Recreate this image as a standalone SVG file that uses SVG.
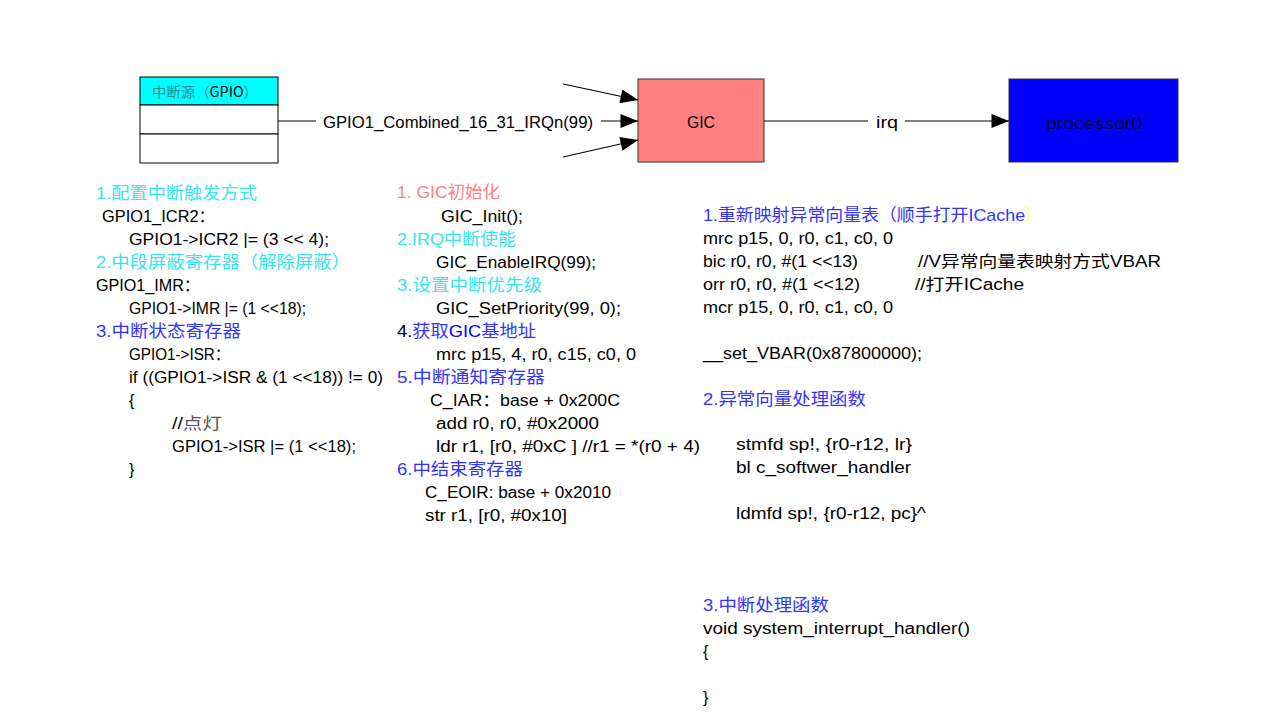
<svg xmlns="http://www.w3.org/2000/svg" width="1281" height="725" viewBox="0 0 1281 725">
<defs>
<marker id="ah2" viewBox="0 0 10 8" markerWidth="20" markerHeight="14" refX="10" refY="4" orient="auto" markerUnits="userSpaceOnUse"><path d="M0,0 L10,4 L0,8 z" fill="#000"/></marker>
</defs>
<style>
text{font-family:"Liberation Sans","Noto Sans CJK SC",sans-serif;font-size:16px;fill:#000}
.h{font-size:17px}
.cy{fill:#33e6f0}
.bl{fill:#3333ff}
.pk{fill:#ff8080}
.ln{stroke:#000;stroke-width:1.2;fill:none}
</style>
<rect width="1281" height="725" fill="#fff"/>
<g id="gpio">
<rect x="140" y="77" width="138" height="28" fill="#00ffff" stroke="#000" stroke-width="1"/>
<rect x="140" y="105" width="138" height="29" fill="#fff" stroke="#000" stroke-width="1"/>
<rect x="140" y="134" width="138" height="29" fill="#fff" stroke="#000" stroke-width="1"/>
<text x="152" y="97" textLength="106" lengthAdjust="spacingAndGlyphs" style="font-size:14px;font-family:'Noto Sans CJK SC',sans-serif"><tspan fill="#2a8a90">中断源（</tspan><tspan>GPIO</tspan><tspan fill="#2a8a90">）</tspan></text>
</g>
<g id="gic">
<rect x="638" y="79" width="126" height="83" fill="#ff8080" stroke="#333" stroke-width="1"/>
<text x="687" y="128" textLength="28" lengthAdjust="spacingAndGlyphs">GIC</text>
</g>
<g id="processor0">
<rect x="1009" y="79" width="169" height="83" fill="#0000ff" stroke="#333" stroke-width="1"/>
<text x="1046" y="129" textLength="96" lengthAdjust="spacingAndGlyphs" style="fill:#000033">processor0</text>
</g>
<g id="connectors">
<line class="ln" x1="278" y1="121" x2="316" y2="121"/>
<text x="323" y="128" textLength="270" lengthAdjust="spacingAndGlyphs">GPIO1_Combined_16_31_IRQn(99)</text>
<line class="ln" x1="601" y1="121" x2="638" y2="121" marker-end="url(#ah2)"/>
<line class="ln" x1="563" y1="84" x2="638" y2="100" marker-end="url(#ah2)"/>
<line class="ln" x1="563" y1="157" x2="638" y2="140" marker-end="url(#ah2)"/>
<line class="ln" x1="764" y1="121" x2="868" y2="121"/>
<text x="876" y="128" textLength="22" lengthAdjust="spacingAndGlyphs">irq</text>
<line class="ln" x1="905" y1="121" x2="1009" y2="121" marker-end="url(#ah2)"/>
</g>
<g id="col1">
<text x="96" y="199" class="cy h" textLength="161" lengthAdjust="spacingAndGlyphs">1.配置中断触发方式</text>
<text x="102" y="222" textLength="113" lengthAdjust="spacingAndGlyphs">GPIO1_ICR2：</text>
<text x="129" y="245" textLength="200" lengthAdjust="spacingAndGlyphs">GPIO1-&gt;ICR2  |= (3 &lt;&lt; 4);</text>
<text x="96" y="268" class="cy h" textLength="254" lengthAdjust="spacingAndGlyphs">2.中段屏蔽寄存器（解除屏蔽）</text>
<text x="96" y="291" textLength="104" lengthAdjust="spacingAndGlyphs">GPIO1_IMR：</text>
<text x="129" y="314" textLength="177" lengthAdjust="spacingAndGlyphs">GPIO1-&gt;IMR |= (1 &lt;&lt;18);</text>
<text x="96" y="337" class="bl h" textLength="145" lengthAdjust="spacingAndGlyphs">3.中断状态寄存器</text>
<text x="129" y="360" textLength="101" lengthAdjust="spacingAndGlyphs">GPIO1-&gt;ISR：</text>
<text x="129" y="383" textLength="254" lengthAdjust="spacingAndGlyphs">if ((GPIO1-&gt;ISR &amp; (1 &lt;&lt;18)) != 0)</text>
<text x="129" y="406">{</text>
<text x="172" y="429" textLength="50" lengthAdjust="spacingAndGlyphs">//<tspan fill="#555">点灯</tspan></text>
<text x="172" y="452" textLength="184" lengthAdjust="spacingAndGlyphs">GPIO1-&gt;ISR |= (1 &lt;&lt;18);</text>
<text x="129" y="475">}</text>
</g>
<g id="col2">
<text x="397" y="198" class="pk h" textLength="103" lengthAdjust="spacingAndGlyphs">1. GIC初始化</text>
<text x="441" y="222" textLength="82" lengthAdjust="spacingAndGlyphs">GIC_Init();</text>
<text x="397" y="245" class="cy h" textLength="119" lengthAdjust="spacingAndGlyphs">2.IRQ中断使能</text>
<text x="436" y="268" textLength="160" lengthAdjust="spacingAndGlyphs">GIC_EnableIRQ(99);</text>
<text x="397" y="291" class="cy h" textLength="145" lengthAdjust="spacingAndGlyphs">3.设置中断优先级</text>
<text x="436" y="314" textLength="185" lengthAdjust="spacingAndGlyphs">GIC_SetPriority(99, 0);</text>
<text x="397" y="337" class="h" textLength="139" lengthAdjust="spacingAndGlyphs">4.<tspan class="bl">获取</tspan><tspan fill="#0000ff">GIC</tspan><tspan class="bl">基地址</tspan></text>
<text x="436" y="360" textLength="200" lengthAdjust="spacingAndGlyphs">mrc p15, 4, r0, c15, c0, 0</text>
<text x="397" y="383" class="bl h" textLength="148" lengthAdjust="spacingAndGlyphs">5.中断通知寄存器</text>
<text x="430" y="406" textLength="190" lengthAdjust="spacingAndGlyphs">C_IAR：base + 0x200C</text>
<text x="436" y="429" textLength="163" lengthAdjust="spacingAndGlyphs">add r0, r0, #0x2000</text>
<text x="436" y="452" textLength="264" lengthAdjust="spacingAndGlyphs">ldr r1, [r0, #0xC ] //r1 = *(r0 + 4)</text>
<text x="397" y="475" class="bl h" textLength="126" lengthAdjust="spacingAndGlyphs">6.中结束寄存器</text>
<text x="425" y="498" textLength="186" lengthAdjust="spacingAndGlyphs">C_EOIR: base + 0x2010</text>
<text x="425" y="521" textLength="142" lengthAdjust="spacingAndGlyphs">str r1, [r0, #0x10]</text>
</g>
<g id="col3">
<text x="703" y="221" class="bl h" textLength="340" lengthAdjust="spacingAndGlyphs">1.重新映射异常向量表（顺手打开ICache<tspan fill="#ffff66">）</tspan></text>
<text x="703" y="244" textLength="190" lengthAdjust="spacingAndGlyphs">mrc p15, 0, r0, c1, c0, 0</text>
<text x="703" y="267" textLength="155" lengthAdjust="spacingAndGlyphs">bic r0, r0, #(1 &lt;&lt;13)</text>
<text x="918" y="267" textLength="243" lengthAdjust="spacingAndGlyphs">//V异常向量表映射方式VBAR</text>
<text x="703" y="290" textLength="157" lengthAdjust="spacingAndGlyphs">orr r0, r0, #(1 &lt;&lt;12)</text>
<text x="915" y="290" textLength="109" lengthAdjust="spacingAndGlyphs">//打开ICache</text>
<text x="703" y="313" textLength="190" lengthAdjust="spacingAndGlyphs">mcr p15, 0, r0, c1, c0, 0</text>
<text x="703" y="359" textLength="219" lengthAdjust="spacingAndGlyphs">__set_VBAR(0x87800000);</text>
<text x="703" y="405" class="bl h" textLength="163" lengthAdjust="spacingAndGlyphs">2.异常向量处理函数</text>
<text x="736" y="450" textLength="176" lengthAdjust="spacingAndGlyphs">stmfd sp!, {r0-r12, lr}</text>
<text x="736" y="473" textLength="175" lengthAdjust="spacingAndGlyphs">bl c_softwer_handler</text>
<text x="736" y="519" textLength="190" lengthAdjust="spacingAndGlyphs">ldmfd sp!, {r0-r12, pc}^</text>
<text x="703" y="611" class="bl h" textLength="126" lengthAdjust="spacingAndGlyphs">3.中断处理函数</text>
<text x="703" y="634" textLength="267" lengthAdjust="spacingAndGlyphs">void system_interrupt_handler()</text>
<text x="703" y="657">{</text>
<text x="703" y="703">}</text>
</g>
</svg>
